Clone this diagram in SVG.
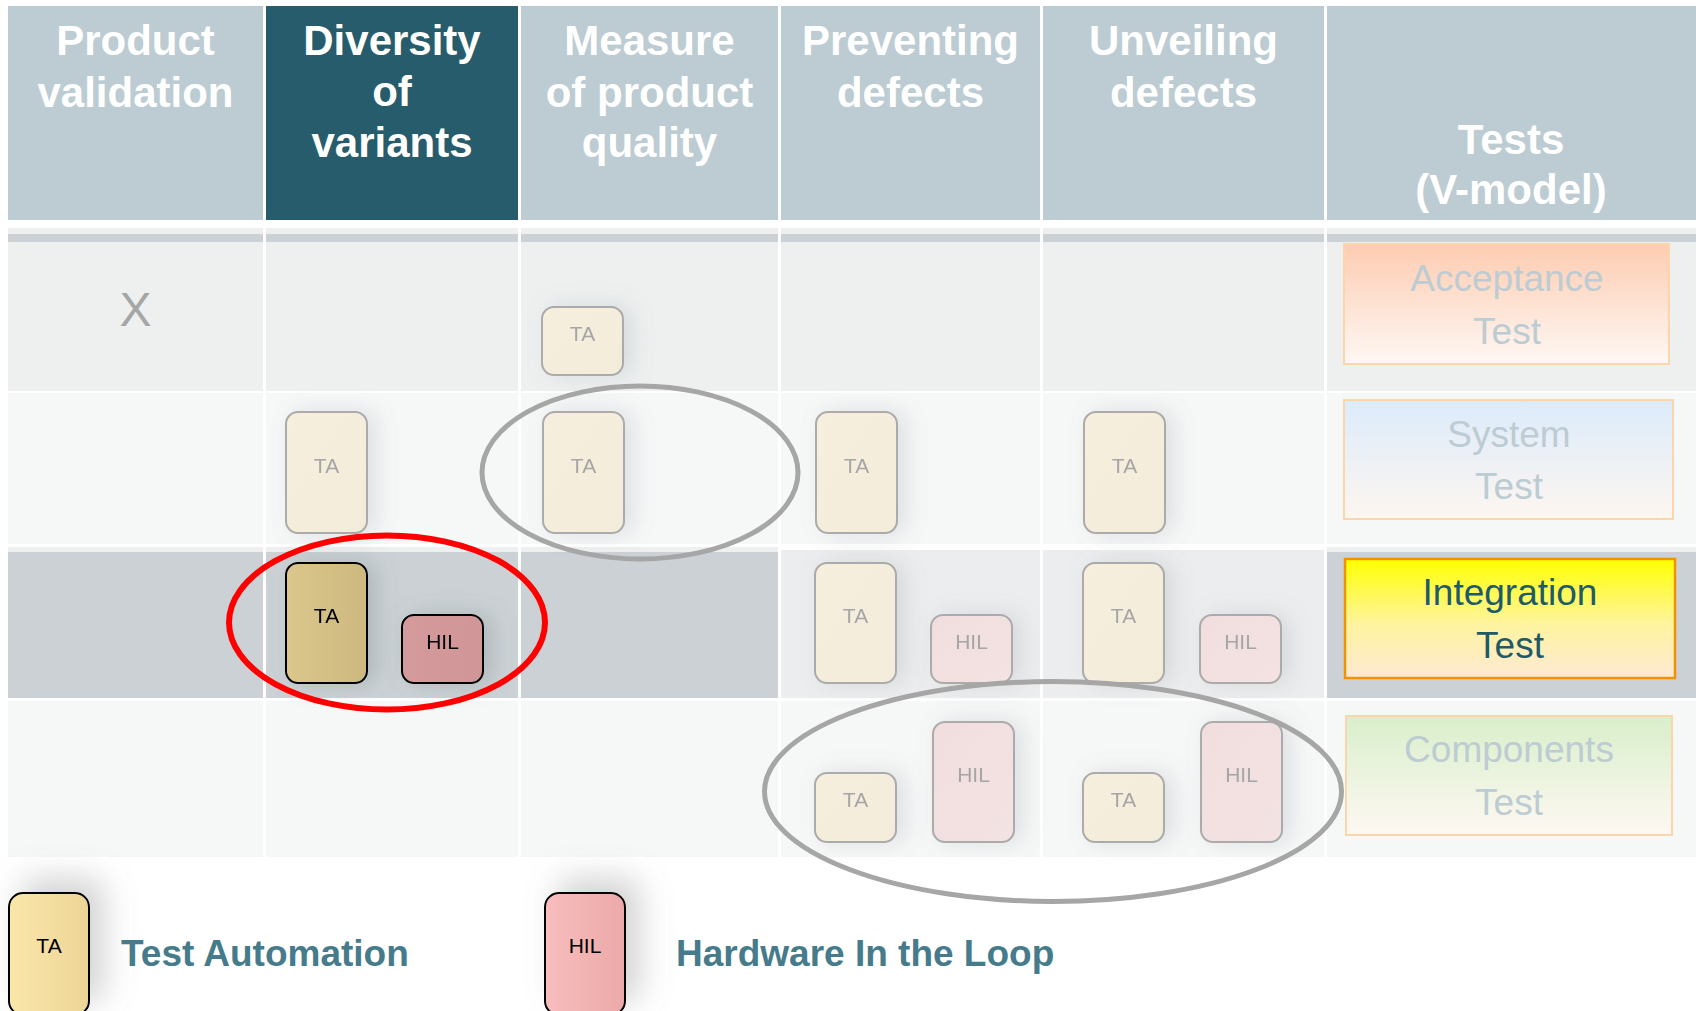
<svg xmlns="http://www.w3.org/2000/svg" width="1696" height="1011" viewBox="0 0 1696 1011">
<defs>
<style>
.hd{fill:#BCCCD2}
.hdt{font-family:"Liberation Sans",Arial,sans-serif;font-weight:bold;font-size:42px;fill:#FFFFFF;text-anchor:middle}
.r1{fill:#EEF0F0}
.r2{fill:#F6F7F7}
.r3{fill:#CBD1D4}
.r3f{fill:#ECEDEE}
.band{fill:#CBD1D4}
.fta{fill:url(#gFTA);stroke:#ABABAB;stroke-width:2}
.fhil{fill:url(#gFHIL);stroke:#ABABAB;stroke-width:2}
.bt{font-family:"Liberation Sans",Arial,sans-serif;font-size:21px;text-anchor:middle;fill:#A6A6A6}
.btk{font-family:"Liberation Sans",Arial,sans-serif;font-size:21px;text-anchor:middle;fill:#000000}
.vt{font-family:"Liberation Sans",Arial,sans-serif;font-size:37px;text-anchor:middle;fill:#BCCCD2}
.vti{font-family:"Liberation Sans",Arial,sans-serif;font-size:37px;text-anchor:middle;fill:#1F5A68}
.lg{font-family:"Liberation Sans",Arial,sans-serif;font-weight:bold;font-size:37px;fill:#457B8A}
.ring{fill:none;stroke:#A6A6A6;stroke-width:5}
</style>
<linearGradient id="gFTA" x1="0" y1="0" x2="1" y2="1"><stop offset="0" stop-color="#F7EFDD"/><stop offset="1" stop-color="#F4ECDA"/></linearGradient>
<linearGradient id="gFHIL" x1="0" y1="0" x2="1" y2="1"><stop offset="0" stop-color="#F1DDDD"/><stop offset="1" stop-color="#F4E3E3"/></linearGradient>
<linearGradient id="gATA" x1="0" y1="0" x2="1" y2="0"><stop offset="0" stop-color="#DBC78C"/><stop offset="1" stop-color="#CDB97F"/></linearGradient>
<linearGradient id="gAHIL" x1="0" y1="0" x2="1" y2="0"><stop offset="0" stop-color="#D49A9C"/><stop offset="1" stop-color="#D19697"/></linearGradient>
<linearGradient id="gLTA" x1="0" y1="0" x2="1" y2="0"><stop offset="0" stop-color="#FBE6AA"/><stop offset="1" stop-color="#ECD596"/></linearGradient>
<linearGradient id="gLHIL" x1="0" y1="0" x2="1" y2="0"><stop offset="0" stop-color="#F8BDBD"/><stop offset="1" stop-color="#ECA9A9"/></linearGradient>
<linearGradient id="gAcc" x1="0" y1="0" x2="0" y2="1"><stop offset="0" stop-color="#FDCCB1"/><stop offset="1" stop-color="#FEF8F4"/></linearGradient>
<linearGradient id="gSys" x1="0" y1="0" x2="0" y2="1"><stop offset="0" stop-color="#DCEBFB"/><stop offset="1" stop-color="#FDF6F0"/></linearGradient>
<linearGradient id="gInt" x1="0" y1="0" x2="0" y2="1"><stop offset="0" stop-color="#FFFF00"/><stop offset="0.55" stop-color="#FEF4A0"/><stop offset="1" stop-color="#FDE9D3"/></linearGradient>
<linearGradient id="gCmp" x1="0" y1="0" x2="0" y2="1"><stop offset="0" stop-color="#D9EFCB"/><stop offset="1" stop-color="#FEF8F2"/></linearGradient>
<filter id="sh" x="-60%" y="-40%" width="240%" height="180%"><feDropShadow dx="8" dy="0" stdDeviation="11" flood-color="#7F8A90" flood-opacity="0.22"/></filter>
<filter id="shA" x="-60%" y="-40%" width="240%" height="180%"><feDropShadow dx="8" dy="0" stdDeviation="11" flood-color="#6F7A80" flood-opacity="0.3"/></filter>
<filter id="shL" x="-80%" y="-80%" width="300%" height="260%"><feDropShadow dx="14" dy="-14" stdDeviation="16" flood-color="#808080" flood-opacity="0.35"/></filter>
</defs>
<rect width="1696" height="1011" fill="#FFFFFF"/>
<g id="table">
<rect class="hd" x="8" y="6" width="255" height="214"/>
<rect x="266" y="6" width="252" height="214" fill="#265C6B"/>
<rect class="hd" x="521" y="6" width="257" height="214"/>
<rect class="hd" x="781" y="6" width="259" height="214"/>
<rect class="hd" x="1043" y="6" width="281" height="214"/>
<rect class="hd" x="1327" y="6" width="369" height="214"/>
<g>
<rect class="r1" x="8" y="228" width="255" height="163"/>
<rect class="r1" x="266" y="228" width="252" height="163"/>
<rect class="r1" x="521" y="228" width="257" height="163"/>
<rect class="r1" x="781" y="228" width="259" height="163"/>
<rect class="r1" x="1043" y="228" width="281" height="163"/>
<rect class="r1" x="1327" y="228" width="369" height="163"/>
<rect class="band" x="8" y="234" width="255" height="8"/>
<rect class="band" x="266" y="234" width="252" height="8"/>
<rect class="band" x="521" y="234" width="257" height="8"/>
<rect class="band" x="781" y="234" width="259" height="8"/>
<rect class="band" x="1043" y="234" width="281" height="8"/>
<rect class="band" x="1327" y="234" width="369" height="8"/>
</g>
<g>
<rect class="r2" x="8" y="393" width="255" height="151"/>
<rect class="r2" x="266" y="393" width="252" height="151"/>
<rect class="r2" x="521" y="393" width="257" height="151"/>
<rect class="r2" x="781" y="393" width="259" height="151"/>
<rect class="r2" x="1043" y="393" width="281" height="151"/>
<rect class="r2" x="1327" y="393" width="369" height="151"/>
</g>
<g>
<rect class="r1" x="8" y="547" width="255" height="151"/>
<rect class="r1" x="266" y="547" width="252" height="151"/>
<rect class="r1" x="521" y="547" width="257" height="151"/>
<rect class="r1" x="1327" y="547" width="369" height="151"/>
<rect class="r3" x="8" y="552" width="255" height="146"/>
<rect class="r3" x="266" y="552" width="252" height="146"/>
<rect class="r3" x="521" y="552" width="257" height="146"/>
<rect class="r3f" x="781" y="550" width="259" height="148"/>
<rect class="r3f" x="1043" y="550" width="281" height="148"/>
<rect class="r3" x="1327" y="552" width="369" height="146"/>
</g>
<g>
<rect class="r2" x="8" y="701" width="255" height="156"/>
<rect class="r2" x="266" y="701" width="252" height="156"/>
<rect class="r2" x="521" y="701" width="257" height="156"/>
<rect class="r2" x="781" y="701" width="259" height="156"/>
<rect class="r2" x="1043" y="701" width="281" height="156"/>
<rect class="r2" x="1327" y="701" width="369" height="156"/>
</g>
</g>
<g id="headers">
<g id="h-product"><text class="hdt" x="135.5" y="55">Product</text><text class="hdt" x="135.5" y="107">validation</text></g>
<g id="h-diversity"><text class="hdt" x="392" y="55">Diversity</text><text class="hdt" x="392" y="106">of</text><text class="hdt" x="392" y="157">variants</text></g>
<g id="h-measure"><text class="hdt" x="649.5" y="55">Measure</text><text class="hdt" x="649.5" y="107">of product</text><text class="hdt" x="649.5" y="157">quality</text></g>
<g id="h-preventing"><text class="hdt" x="910.5" y="55">Preventing</text><text class="hdt" x="910.5" y="107">defects</text></g>
<g id="h-unveiling"><text class="hdt" x="1183.5" y="55">Unveiling</text><text class="hdt" x="1183.5" y="107">defects</text></g>
<g id="h-tests"><text class="hdt" x="1511" y="154">Tests</text><text class="hdt" x="1511" y="204">(V-model)</text></g>
</g>
<g id="x-mark"><text x="135.5" y="326" font-family="Liberation Sans, Arial, sans-serif" font-size="48" fill="#A6A6A6" text-anchor="middle">X</text></g>
<g id="vmodel">
<g id="acceptance"><rect x="1344" y="244" width="325" height="120" fill="url(#gAcc)" stroke="#FBD6AA" stroke-width="2"/><text class="vt" x="1507" y="291">Acceptance</text><text class="vt" x="1507" y="344">Test</text></g>
<g id="system"><rect x="1344" y="400" width="329" height="119" fill="url(#gSys)" stroke="#FBD6AA" stroke-width="2"/><text class="vt" x="1509" y="447">System</text><text class="vt" x="1509" y="499">Test</text></g>
<g id="integration"><rect x="1345" y="559" width="330" height="119" fill="url(#gInt)" stroke="#F39200" stroke-width="2.5"/><text class="vti" x="1510" y="605">Integration</text><text class="vti" x="1510" y="658">Test</text></g>
<g id="components"><rect x="1346" y="716" width="326" height="119" fill="url(#gCmp)" stroke="#FBD6AA" stroke-width="2"/><text class="vt" x="1509" y="762">Components</text><text class="vt" x="1509" y="815">Test</text></g>
</g>
<g id="cards">
<g id="ta-r1c3" filter="url(#sh)"><rect class="fta" x="542" y="307" width="81" height="68" rx="12"/><text class="bt" x="582.5" y="341">TA</text></g>
<g id="ta-r2c2" filter="url(#sh)"><rect class="fta" x="286" y="412" width="81" height="121" rx="12"/><text class="bt" x="326.5" y="473">TA</text></g>
<g id="ta-r2c3" filter="url(#sh)"><rect class="fta" x="543" y="412" width="81" height="121" rx="12"/><text class="bt" x="583.5" y="473">TA</text></g>
<g id="ta-r2c4" filter="url(#sh)"><rect class="fta" x="816" y="412" width="81" height="121" rx="12"/><text class="bt" x="856.5" y="473">TA</text></g>
<g id="ta-r2c5" filter="url(#sh)"><rect class="fta" x="1084" y="412" width="81" height="121" rx="12"/><text class="bt" x="1124.5" y="473">TA</text></g>
<g id="ta-r3c2" filter="url(#shA)"><rect x="286" y="563" width="81" height="120" rx="12" fill="url(#gATA)" stroke="#000" stroke-width="2"/><text class="btk" x="326.5" y="623">TA</text></g>
<g id="hil-r3c2" filter="url(#shA)"><rect x="402" y="615" width="81" height="68" rx="12" fill="url(#gAHIL)" stroke="#000" stroke-width="2"/><text class="btk" x="442.5" y="649">HIL</text></g>
<g id="ta-r3c4" filter="url(#sh)"><rect class="fta" x="815" y="563" width="81" height="120" rx="12"/><text class="bt" x="855.5" y="623">TA</text></g>
<g id="hil-r3c4" filter="url(#sh)"><rect class="fhil" x="931" y="615" width="81" height="68" rx="12"/><text class="bt" x="971.5" y="649">HIL</text></g>
<g id="ta-r3c5" filter="url(#sh)"><rect class="fta" x="1083" y="563" width="81" height="120" rx="12"/><text class="bt" x="1123.5" y="623">TA</text></g>
<g id="hil-r3c5" filter="url(#sh)"><rect class="fhil" x="1200" y="615" width="81" height="68" rx="12"/><text class="bt" x="1240.5" y="649">HIL</text></g>
<g id="ta-r4c4" filter="url(#sh)"><rect class="fta" x="815" y="773" width="81" height="69" rx="12"/><text class="bt" x="855.5" y="807">TA</text></g>
<g id="hil-r4c4" filter="url(#sh)"><rect class="fhil" x="933" y="722" width="81" height="120" rx="12"/><text class="bt" x="973.5" y="782">HIL</text></g>
<g id="ta-r4c5" filter="url(#sh)"><rect class="fta" x="1083" y="773" width="81" height="69" rx="12"/><text class="bt" x="1123.5" y="807">TA</text></g>
<g id="hil-r4c5" filter="url(#sh)"><rect class="fhil" x="1201" y="722" width="81" height="120" rx="12"/><text class="bt" x="1241.5" y="782">HIL</text></g>
</g>
<g id="highlights">
<ellipse class="ring" cx="640" cy="472.5" rx="158" ry="86.5"/>
<ellipse class="ring" cx="1053" cy="791.5" rx="288.5" ry="110"/>
<ellipse cx="387" cy="622.5" rx="158" ry="87" fill="none" stroke="#FF0000" stroke-width="6"/>
</g>
<g id="legend">
<g id="legend-ta"><rect x="9" y="893" width="80" height="122" rx="14" fill="url(#gLTA)" stroke="#000" stroke-width="2" filter="url(#shL)"/><text class="btk" x="49" y="953">TA</text><text class="lg" x="121" y="966">Test Automation</text></g>
<g id="legend-hil"><rect x="545" y="893" width="80" height="122" rx="14" fill="url(#gLHIL)" stroke="#000" stroke-width="2" filter="url(#shL)"/><text class="btk" x="585" y="953">HIL</text><text class="lg" x="676" y="966">Hardware In the Loop</text></g>
</g>
</svg>
